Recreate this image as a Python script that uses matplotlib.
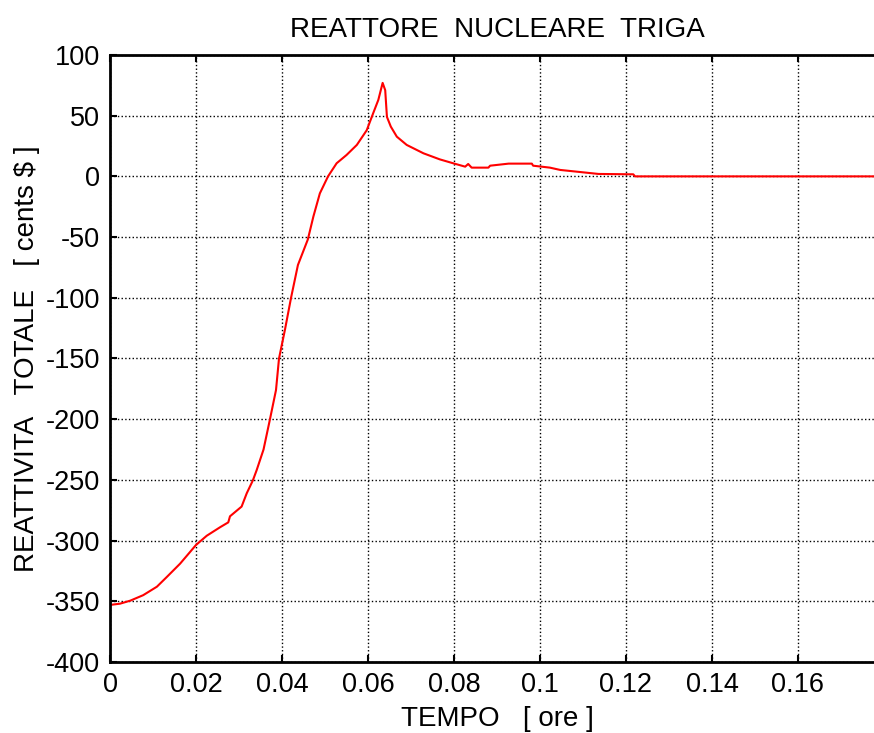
import numpy as np
import matplotlib.pyplot as plt

plt.rcParams['font.family'] = ['Liberation Sans', 'DejaVu Sans']
plt.rcParams['axes.unicode_minus'] = False

# Time [hours] and total reactivity [cents $]
tempo = [0.0000, 0.0023, 0.0047, 0.0077, 0.0109, 0.0132, 0.0163, 0.0200,
         0.0225, 0.0256, 0.0275, 0.0279, 0.0306, 0.0318, 0.0332, 0.0341,
         0.0357, 0.0372, 0.0386, 0.0393, 0.0407, 0.0421, 0.0437, 0.0460,
         0.0473, 0.0488, 0.0507, 0.0527, 0.0550, 0.0574, 0.0597, 0.0612,
         0.0624, 0.0634, 0.0640, 0.0644, 0.0653, 0.0667, 0.0690, 0.0729,
         0.0767, 0.0798, 0.0826, 0.0833, 0.0841, 0.0880, 0.0884, 0.0927,
         0.0981, 0.0984, 0.1023, 0.1047, 0.1101, 0.1136, 0.1217, 0.1221,
         0.1800]
reattivita = [-353, -352, -349.5, -345, -338, -330, -319, -303.6,
              -296, -289, -285, -280, -272, -261, -250.6, -242,
              -225, -200, -176, -150, -126, -100, -73, -52,
              -33, -14, 0, 10.8, 17.6, 25.9, 38, 52,
              63, 77, 71, 49, 41, 32.7, 25.9, 19,
              14, 10.8, 8, 10.2, 7.2, 7.2, 8.8, 10.5,
              10.5, 8.8, 7.2, 5.3, 3.3, 2, 1.7, 0,
              0]

xticks = [0, 0.02, 0.04, 0.06, 0.08, 0.1, 0.12, 0.14, 0.16]
xticklabels = ['0', '0.02', '0.04', '0.06', '0.08', '0.1', '0.12', '0.14', '0.16']
yticks = [100, 50, 0, -50, -100, -150, -200, -250, -300, -350, -400]

fig = plt.figure(figsize=(8.74, 7.33), dpi=100)
ax = fig.add_axes([0.1259, 0.0969, 0.8855, 0.8281])

ax.plot(tempo, reattivita, color='red', linewidth=1.5)

ax.set_xlim(0, 0.18)
ax.set_ylim(-400, 100)
ax.set_xticks(xticks)
ax.set_xticklabels(xticklabels)
ax.set_yticks(yticks)
ax.tick_params(direction='in', top=True, right=True, labelsize=19.5, length=5, width=1.5, pad=7)
ax.grid(True, color='black', linestyle=':', linewidth=1)
for s in ax.spines.values():
    s.set_linewidth(2)

ax.set_title('REATTORE  NUCLEARE  TRIGA', fontsize=20, pad=13)
ax.set_xlabel('TEMPO   [ ore ]', fontsize=20, labelpad=6)
ax.set_ylabel('REATTIVITA   TOTALE   [ cents \\$ ]', fontsize=20, labelpad=4)

fig.savefig('out.png', dpi=100)
